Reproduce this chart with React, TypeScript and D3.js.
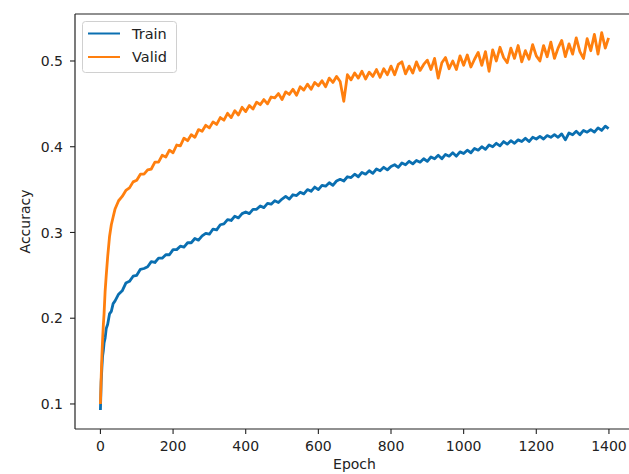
import * as React from "react";
import * as d3 from "d3";

// epochs (denser at the start, where the curves climb fast)
const earlyEpochs = [0, 2, 4, 6, 8, 10, 13, 16, 20, 25, 30, 35, 40];
const laterEpochs = d3.range(50, 1400, 10).concat([1399]);
const epochs = earlyEpochs.concat(laterEpochs);

const trainEarly = [0.093, 0.125, 0.142, 0.156, 0.162, 0.171, 0.177, 0.188, 0.193, 0.205, 0.208, 0.217, 0.220];
const trainLater = [
  0.228, 0.232, 0.241, 0.243, 0.249, 0.250, 0.257, 0.258, 0.260, 0.266, 0.265, 0.270, 0.270, 0.274, 0.274, 0.280,
  0.280, 0.284, 0.283, 0.288, 0.288, 0.293, 0.291, 0.296, 0.299, 0.298,
  0.304, 0.303, 0.309, 0.310, 0.315, 0.314, 0.319, 0.317, 0.322, 0.324,
  0.322, 0.327, 0.327, 0.331, 0.329, 0.334, 0.333, 0.337, 0.335, 0.339,
  0.342, 0.339, 0.344, 0.343, 0.347, 0.345, 0.350, 0.348, 0.353, 0.350,
  0.355, 0.354, 0.358, 0.355, 0.360, 0.362, 0.360, 0.365, 0.364, 0.368,
  0.365, 0.370, 0.368, 0.372, 0.369, 0.374, 0.372, 0.376, 0.373, 0.377,
  0.379, 0.376, 0.381, 0.379, 0.383, 0.380, 0.384, 0.382, 0.386, 0.383,
  0.388, 0.386, 0.390, 0.386, 0.391, 0.389, 0.393, 0.389, 0.394, 0.392,
  0.396, 0.393, 0.398, 0.396, 0.400, 0.397, 0.402, 0.400, 0.404, 0.401,
  0.406, 0.403, 0.407, 0.404, 0.408, 0.406, 0.410, 0.406, 0.411, 0.409,
  0.412, 0.409, 0.413, 0.411, 0.414, 0.411, 0.415, 0.408, 0.416, 0.414,
  0.418, 0.414, 0.419, 0.417, 0.420, 0.417, 0.422, 0.419, 0.424, 0.421,
];

const validEarly = [0.100, 0.130, 0.155, 0.175, 0.192, 0.205, 0.232, 0.250, 0.272, 0.295, 0.309, 0.318, 0.327];
const validLater = [
  0.337, 0.342, 0.349, 0.352, 0.359, 0.361, 0.368, 0.368, 0.373, 0.374, 0.382, 0.382, 0.390, 0.388, 0.396, 0.393,
  0.402, 0.401, 0.410, 0.407, 0.414, 0.411, 0.420, 0.418, 0.425, 0.422,
  0.429, 0.426, 0.434, 0.431, 0.439, 0.434, 0.442, 0.437, 0.446, 0.441,
  0.448, 0.444, 0.452, 0.449, 0.455, 0.450, 0.458, 0.457, 0.462, 0.455,
  0.464, 0.461, 0.467, 0.460, 0.470, 0.466, 0.473, 0.467, 0.475, 0.471,
  0.477, 0.470, 0.480, 0.475, 0.482, 0.476, 0.453, 0.484, 0.478, 0.486,
  0.480, 0.488, 0.479, 0.487, 0.482, 0.490, 0.481, 0.491, 0.484, 0.494,
  0.484, 0.496, 0.499, 0.485, 0.494, 0.486, 0.499, 0.489, 0.496, 0.501,
  0.490, 0.503, 0.480, 0.498, 0.504, 0.491, 0.500, 0.490, 0.506, 0.495,
  0.507, 0.493, 0.502, 0.510, 0.495, 0.511, 0.488, 0.513, 0.500, 0.516,
  0.504, 0.498, 0.515, 0.503, 0.518, 0.499, 0.512, 0.502, 0.519, 0.506,
  0.500, 0.518, 0.505, 0.522, 0.503, 0.515, 0.524, 0.505, 0.520, 0.508,
  0.527, 0.511, 0.503, 0.526, 0.512, 0.531, 0.508, 0.533, 0.515, 0.527,
];

const trainValues = trainEarly.concat(trainLater);
const validValues = validEarly.concat(validLater);

const xTicks = [0, 200, 400, 600, 800, 1000, 1200, 1400];
const yTicks = [0.1, 0.2, 0.3, 0.4, 0.5];

const seriesNames = ["Train", "Valid"];
const seriesColors = ["#0a6fb1", "#ff7f0e"];
const seriesWidths = [2.8, 2.8];

const W = 629;
const H = 474;
const FONT = "'DejaVu Sans', sans-serif";
const FS = 14;

export default function App() {
  const left = 75;
  const top = 14;
  const bottom = 429;
  const right = 634;

  const x = d3.scaleLinear().domain([-70, 1469]).range([left, right]);
  const y = d3.scaleLinear().domain([0.0708, 0.5548]).range([bottom, top]);

  const makeLine = (vals: number[]) =>
    d3
      .line<number>()
      .x((_, i) => x(epochs[i]))
      .y((d) => y(d))(vals.slice(0, epochs.length)) || "";

  const series = [trainValues, validValues];

  return (
    <svg
      width={W}
      height={H}
      style={{ position: "absolute", left: 0, top: 0, background: "#fff" }}
      fontFamily={FONT}
    >
      <defs>
        <clipPath id="plot">
          <rect x={left} y={top} width={right - left} height={bottom - top} />
        </clipPath>
      </defs>

      {/* lines */}
      <g clipPath="url(#plot)">
        {series.map((vals, k) => (
          <path
            key={k}
            d={makeLine(vals)}
            fill="none"
            stroke={seriesColors[k]}
            strokeWidth={seriesWidths[k]}
            strokeLinejoin="round"
          />
        ))}
      </g>

      {/* spines */}
      <g stroke="#222" strokeWidth={1.2} fill="none">
        <line x1={left} x2={left} y1={top} y2={bottom} />
        <line x1={left} x2={right} y1={bottom} y2={bottom} />
        <line x1={left} x2={right} y1={top} y2={top} />
        <line x1={right} x2={right} y1={top} y2={bottom} />
      </g>

      {/* x ticks */}
      {xTicks.map((t) => (
        <g key={t} transform={`translate(${x(t)},${bottom})`}>
          <line y1={0} y2={5} stroke="#222" strokeWidth={1.1} />
          <text y={22} textAnchor="middle" fontSize={FS} fill="#222">
            {t}
          </text>
        </g>
      ))}

      {/* y ticks */}
      {yTicks.map((t) => (
        <g key={t} transform={`translate(${left},${y(t)})`}>
          <line x1={0} x2={-5} stroke="#222" strokeWidth={1.1} />
          <text x={-12} dy="0.36em" textAnchor="end" fontSize={FS} fill="#222">
            {d3.format(".1f")(t)}
          </text>
        </g>
      ))}

      {/* axis labels */}
      <text x={(left + right) / 2} y={469} textAnchor="middle" fontSize={FS} fill="#222">
        Epoch
      </text>
      <text
        transform={`translate(29.5,${(top + bottom) / 2}) rotate(-90)`}
        textAnchor="middle"
        fontSize={FS}
        fill="#222"
      >
        Accuracy
      </text>

      {/* legend */}
      <g>
        <rect x={82.5} y={21.5} width={94} height={51} rx={3} fill="#fff" fillOpacity={0.8} stroke="#d0d0d0" />
        {seriesNames.map((name, k) => (
          <g key={name} transform={`translate(88,${33.5 + k * 23.5})`}>
            <line x1={0} x2={32} stroke={seriesColors[k]} strokeWidth={2} />
            <text x={44} dy="0.36em" fontSize={14.5} fill="#222">
              {name}
            </text>
          </g>
        ))}
      </g>
    </svg>
  );
}
